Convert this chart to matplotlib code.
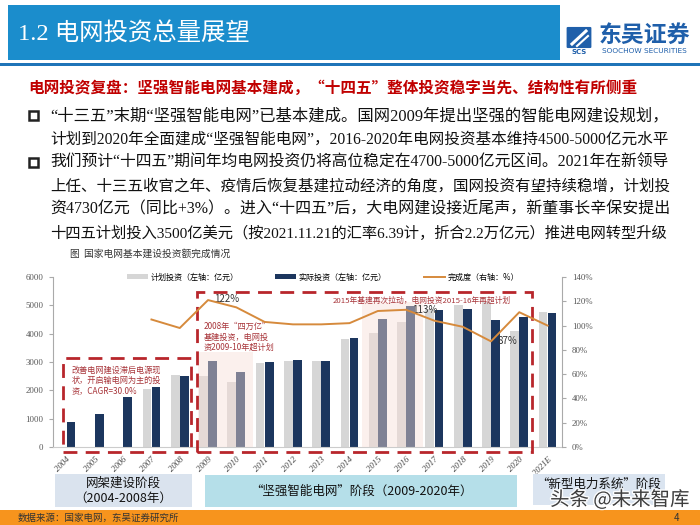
import matplotlib
matplotlib.use('Agg')
import matplotlib.pyplot as plt
import numpy as np
from matplotlib.patches import Rectangle, Patch, FancyBboxPatch
from matplotlib.lines import Line2D
import matplotlib.patheffects as pe

# ---------------- data ----------------
years = ['2004', '2005', '2006', '2007', '2008', '2009', '2010', '2011', '2012',
         '2013', '2014', '2015', '2016', '2017', '2018', '2019', '2020', '2021E']
plan = [np.nan, np.nan, np.nan, 2040, 2550, 2520, 2300, 2950, 3040,
        3030, 3810, 4030, 4410, 4860, 5010, 5120, 4110, 4750]
actual = [870, 1160, 1760, 2120, 2490, 3050, 2640, 3000, 3060,
          3030, 3850, 4510, 4960, 4850, 4880, 4470, 4600, 4720]
completion = [np.nan, np.nan, np.nan, 105, 98, 121, 115, 103, 101,
              101, 102, 112, 113, 104, 99, 87, 111, 100]
left_ticks = [0, 1000, 2000, 3000, 4000, 5000, 6000]
right_ticks = [0, 20, 40, 60, 80, 100, 120, 140]

legend_labels = ['计划投资（左轴：亿元）', '实际投资（左轴：亿元）', '完成度（右轴：%）']
chart_title = '图  国家电网基本建设投资额完成情况'
header_title = '1.2 电网投资总量展望'
subtitle = '电网投资复盘：坚强智能电网基本建成，“十四五”整体投资稳字当先、结构性有所侧重'
body_lines = [
    '“十三五”末期“坚强智能电网”已基本建成。国网2009年提出坚强的智能电网建设规划，',
    '计划到2020年全面建成“坚强智能电网”，2016-2020年电网投资基本维持4500-5000亿元水平',
    '我们预计“十四五”期间年均电网投资仍将高位稳定在4700-5000亿元区间。2021年在新领导',
    '上任、十三五收官之年、疫情后恢复基建拉动经济的角度，国网投资有望持续稳增，计划投',
    '资4730亿元（同比+3%）。进入“十四五”后，大电网建设接近尾声，新董事长辛保安提出',
    '十四五计划投入3500亿美元（按2021.11.21的汇率6.39计，折合2.2万亿元）推进电网转型升级',
]
bullet_rows = [0, 2]
box1_text = '改善电网建设滞后电源现\n状，开启输电网为主的投\n资，CAGR=30.0%'
box2_text = '2008年“四万亿”\n基建投资，电网投\n资2009-10年超计划'
box3_text = '2015年基建再次拉动，电网投资2015-16年再超计划'
phase_labels = ['网架建设阶段\n（2004-2008年）', '“坚强智能电网”阶段（2009-2020年）', '“新型电力系统”阶段']
source_text = '数据来源：国家电网，东吴证券研究所'

CJK = ['Noto Sans CJK SC', 'DejaVu Sans']
SERIF_CJK = ['Liberation Serif', 'Noto Sans CJK SC', 'DejaVu Sans']
plt.rcParams['font.family'] = CJK

W, H = 700, 525
fig = plt.figure(figsize=(7, 5.25), dpi=100)
fig.patch.set_facecolor('white')
renderer = fig.canvas.get_renderer()


def fx(x):
    return x / W


def fy(y):
    return 1 - y / H


def frect(x0, y0, x1, y1, **kw):
    r = Rectangle((fx(x0), fy(y1)), (x1 - x0) / W, (y1 - y0) / H,
                  transform=fig.transFigure, **kw)
    fig.patches.append(r)
    return r


def fit_text(t, target_w):
    w = t.get_window_extent(renderer=renderer).width
    t.set_fontsize(t.get_fontsize() * target_w / w)


# ---------------- header ----------------
frect(8, 5, 560, 60, facecolor='#1b8dcc', edgecolor='none')
ht = fig.text(fx(18), fy(33), header_title, color='white', fontsize=17.5,
              family=SERIF_CJK, va='center', ha='left')
fit_text(ht, 232)
frect(0, 62.5, 700, 65.5, facecolor='#1f74b8', edgecolor='none')

# logo
logo = FancyBboxPatch((fx(568), fy(47)), 22 / W, 19 / H, boxstyle='round,pad=0.002',
                      transform=fig.transFigure, facecolor='#1f5faa', edgecolor='none')
fig.patches.append(logo)
fig.add_artist(Line2D([fx(572), fx(586)], [fy(44), fy(31)], color='white', lw=2.2,
                      transform=fig.transFigure))
fig.add_artist(Line2D([fx(577), fx(588)], [fy(46), fy(36)], color='white', lw=1.5,
                      transform=fig.transFigure))
fig.text(fx(579), fy(52), 'SCS', color='#1f5faa', fontsize=5, fontweight='bold',
         ha='center', va='center', family=['DejaVu Sans'])
fig.text(fx(644), fy(35), '东吴证券', color='#1f5faa', fontsize=16.5, fontweight='bold',
         ha='center', va='center')
fig.text(fx(644), fy(51), 'SOOCHOW SECURITIES', color='#1f5faa', fontsize=5.3,
         ha='center', va='center', family=['DejaVu Sans'])

# ---------------- subtitle + body ----------------
st = fig.text(fx(28), fy(88), subtitle, color='#c00000', fontsize=11.2, fontweight='bold',
              va='center', ha='left')
fit_text(st, 606)
line_y = [116, 139.5, 163, 186, 209.5, 233]
for i, (t, yy) in enumerate(zip(body_lines, line_y)):
    bt = fig.text(fx(50), fy(yy), t, color='#111111', fontsize=11, family=SERIF_CJK,
                  va='center', ha='left')
    fit_text(bt, 618)
    if i in bullet_rows:
        frect(29, yy - 5, 38, yy + 4, facecolor='none', edgecolor='#222222', linewidth=1.8)

fig.text(fx(70), fy(254), chart_title, color='#333333', fontsize=7, va='center', ha='left')

# ---------------- chart ----------------
ax = fig.add_axes([fx(53), 78 / H, 509 / W, 170 / H])
x = np.arange(len(years))
bw = 0.31
ax.bar(x - 0.16, plan, width=bw, color='#d6d6d6', zorder=2)
ax.bar(x + 0.16, actual, width=bw, color='#1c365e', zorder=2)
ax.set_xlim(-0.48, 17.51)
ax.set_ylim(0, 6000)
ax.set_yticks(left_ticks)
ax.set_yticklabels([str(v) for v in left_ticks], family='Liberation Serif', fontsize=6.3,
                   color='#555555')
ax.set_xticks(x)
ax.set_xticklabels(years, rotation=45, ha='right', va='top', rotation_mode='anchor',
                   family='Liberation Serif', style='italic', fontsize=6.3, color='#444444')
ax.tick_params(axis='x', length=0, pad=6)
ax.tick_params(axis='y', direction='out', length=3, color='#aaaaaa', pad=4)
for s in ['top', 'right']:
    ax.spines[s].set_visible(False)
ax.spines['left'].set_color('#aaaaaa')
ax.spines['bottom'].set_color('#cccccc')
ax.spines['left'].set_linewidth(0.8)
ax.patch.set_visible(False)

# highlight overlays
ax.add_patch(Rectangle((4.64, 0), 1.95, 3350, facecolor='#f8ded8', alpha=0.45,
                       edgecolor='none', zorder=3))
ax.add_patch(Rectangle((10.44, 0), 2.15, 5120, facecolor='#f8ded8', alpha=0.45,
                       edgecolor='none', zorder=3))

# dashed boxes
dash_col = '#b8262b'
ax.add_patch(Rectangle((-0.12, -170), 4.52, 3310, fill=False, edgecolor=dash_col,
                       linewidth=2, linestyle=(0, (5, 3)), clip_on=False, zorder=5))
ax.add_patch(Rectangle((4.61, -170), 11.84, 5640, fill=False, edgecolor=dash_col,
                       linewidth=2, linestyle=(0, (5, 3)), clip_on=False, zorder=5))
txt_col = '#a8353a'
ax.text(0.19, 2860, box1_text, color=txt_col, fontsize=5.9, va='top', ha='left',
        linespacing=1.15, zorder=6)
ax.text(4.85, 4400, box2_text, color=txt_col, fontsize=5.9, va='top', ha='left',
        linespacing=1.15, zorder=6)
ax.text(9.42, 5180, box3_text, color=txt_col, fontsize=5.6, va='center', ha='left', zorder=6)

ax2 = ax.twinx()
ax2.set_ylim(0, 140)
ax2.plot(x, completion, color='#d68a3c', lw=1.4, zorder=4, solid_joinstyle='round')
ax2.set_yticks(right_ticks)
ax2.set_yticklabels(['%d%%' % v for v in right_ticks], family='Liberation Serif',
                    fontsize=6.3, color='#555555')
ax2.tick_params(axis='y', direction='out', length=3, color='#aaaaaa', pad=4)
for s in ['top', 'left', 'bottom']:
    ax2.spines[s].set_visible(False)
ax2.spines['right'].set_color('#aaaaaa')
ax2.spines['right'].set_linewidth(0.8)
ax2.text(5.67, 122, '122%', fontsize=7, color='#333333', ha='center', va='center')
ax2.text(12.67, 112.8, '113%', fontsize=7, color='#333333', ha='center', va='center')
ax2.text(15.57, 87.3, '87%', fontsize=7, color='#333333', ha='center', va='center')

handles = [Patch(facecolor='#d6d6d6'), Patch(facecolor='#1c365e'),
           Line2D([0], [0], color='#d68a3c', lw=1.4)]
ax2.legend(handles, legend_labels, loc='center', bbox_to_anchor=(0.53, 1.0), ncol=3,
           frameon=False, handlelength=2.6, handleheight=0.55,
           columnspacing=4.6, handletextpad=0.3, prop={'family': CJK, 'size': 5.8})

# ---------------- phase boxes ----------------
frect(55, 474, 192, 507, facecolor='#dae3ee', edgecolor='none')
frect(205, 475, 517, 507, facecolor='#b5dfe9', edgecolor='none')
frect(533, 474, 665, 505, facecolor='#dae4f0', edgecolor='none')
fig.text(fx(123.5), fy(490.5), phase_labels[0], fontsize=9, color='#111111',
         ha='center', va='center', linespacing=1.25)
fig.text(fx(361), fy(491), phase_labels[1], fontsize=9, color='#111111',
         ha='center', va='center')
fig.text(fx(599), fy(484), phase_labels[2], fontsize=9, color='#111111',
         ha='center', va='center')

fig.text(fx(620), fy(500), '头条 @未来智库', fontsize=14, color='#2a2a2a', ha='center',
         va='center', alpha=0.9,
         path_effects=[pe.withStroke(linewidth=2, foreground='white')])

# ---------------- footer ----------------
frect(0, 510, 700, 525, facecolor='#f7941d', edgecolor='none')
fig.text(fx(18), fy(518), source_text, fontsize=6.8, color='#333333', va='center', ha='left')
fig.text(fx(676), fy(518), '4', fontsize=7, color='#333333', va='center', ha='center')

fig.savefig('out.png', dpi=100)
